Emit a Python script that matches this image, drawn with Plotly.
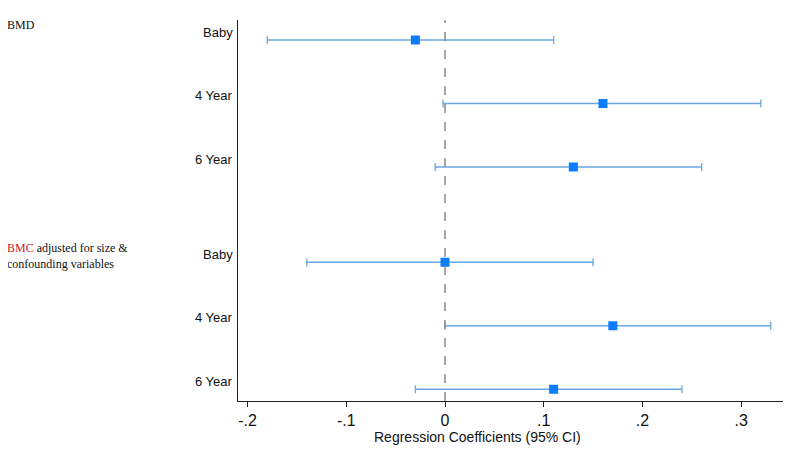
import plotly.graph_objects as go

row_labels = ["Baby", "4 Year", "6 Year", "Baby", "4 Year", "6 Year"]
row_pos = [0, 1, 2, 3.5, 4.5, 5.5]
coef = [-0.03, 0.16, 0.13, 0.0, 0.17, 0.11]
ci_low = [-0.18, -0.002, -0.01, -0.14, 0.0, -0.03]
ci_high = [0.11, 0.32, 0.26, 0.15, 0.33, 0.24]
x_ticks = [-0.2, -0.1, 0, 0.1, 0.2, 0.3]
x_ticktext = ["-.2", "-.1", "0", ".1", ".2", ".3"]

W, H = 784, 451
ML, MR, MT, MB = 230, 9, 12, 58
PW = W - ML - MR

fig = go.Figure()

fig.add_trace(go.Scatter(
    x=coef, y=row_pos, mode="markers",
    marker=dict(symbol="square", size=9, color="#0a7cff"),
    error_x=dict(type="data", symmetric=False,
                 array=[h - c for h, c in zip(ci_high, coef)],
                 arrayminus=[c - l for c, l in zip(coef, ci_low)],
                 color="#6aa8e4", thickness=1.3, width=4),
    showlegend=False, hoverinfo="skip"))

fig.add_shape(type="line", x0=0, x1=0, y0=0, y1=1, xref="x", yref="paper",
              line=dict(color="#8a8a8a", width=1.5, dash="dash"))

for lab, p in zip(row_labels, row_pos):
    fig.add_annotation(x=-0.006, xref="paper", y=p, yref="y", text=lab,
                       showarrow=False, xanchor="right", yanchor="middle", yshift=8,
                       font=dict(family="Liberation Sans, Arial", size=13, color="#111"))

fig.add_annotation(x=-ML / PW, xref="paper", y=0, yref="y", text="BMD",
                   showarrow=False, xanchor="left", yanchor="middle", yshift=15, xshift=-3,
                   font=dict(family="Liberation Serif, Times New Roman", size=12, color="#111"))

fig.add_annotation(x=-ML / PW, xref="paper", y=3.5, yref="y",
                   text="<span style='color:#d42020'>BMC</span> adjusted for size &amp;<br>confounding variables",
                   showarrow=False, xanchor="left", yanchor="middle", align="left", yshift=6, xshift=-3,
                   font=dict(family="Liberation Serif, Times New Roman", size=12, color="#111"))

fig.add_annotation(x=(469 - ML) / PW, xref="paper", y=0, yref="paper", yshift=-36,
                   text="Regression Coefficients (95% CI)", showarrow=False,
                   xanchor="center", yanchor="middle",
                   font=dict(family="Liberation Sans, Arial", size=14, color="#111"))

fig.update_layout(
    width=W, height=H,
    margin=dict(l=ML, r=MR, t=MT, b=MB),
    paper_bgcolor="white", plot_bgcolor="white",
    xaxis=dict(range=[-0.2097, 0.3424], tickvals=x_ticks, ticktext=x_ticktext,
               showgrid=False, zeroline=False, showline=True, linecolor="#222", linewidth=1.3,
               ticks="outside", ticklen=5, tickcolor="#222",
               tickfont=dict(family="Liberation Sans, Arial", size=16, color="#111")),
    yaxis=dict(range=[5.685, -0.315], showgrid=False, zeroline=False, showticklabels=False,
               showline=True, linecolor="#222", linewidth=1.3, ticks=""),
)

fig.write_html("out.html")
